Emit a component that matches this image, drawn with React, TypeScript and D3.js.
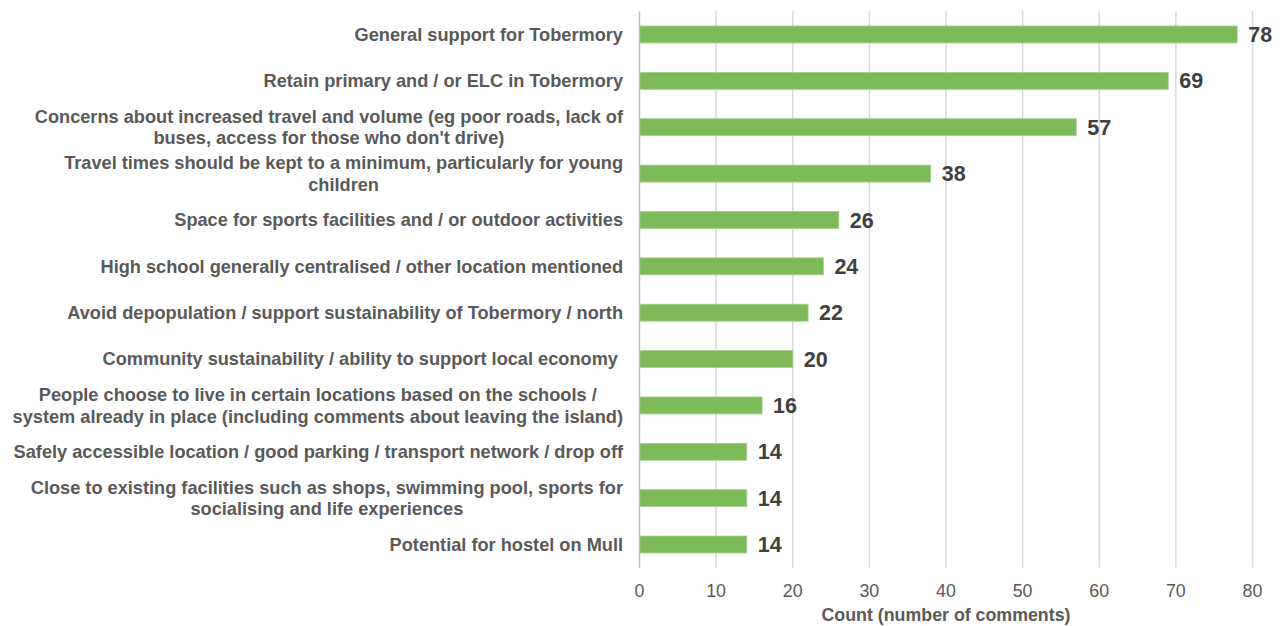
import React, { useEffect, useRef } from "react";
import * as d3 from "d3";

const categories: string[] = [
  "General support for Tobermory",
  "Retain primary and / or ELC in Tobermory",
  "Concerns about increased travel and volume (eg poor roads, lack of\nbuses, access for those who don't drive)",
  "Travel times should be kept to a minimum, particularly for young\nchildren",
  "Space for sports facilities and / or outdoor activities",
  "High school generally centralised / other location mentioned",
  "Avoid depopulation / support sustainability of Tobermory / north",
  "Community sustainability / ability to support local economy ",
  "People choose to live in certain locations based on the schools /\nsystem already in place (including comments about leaving the island)",
  "Safely accessible location / good parking / transport network / drop off",
  "Close to existing facilities such as shops, swimming pool, sports for\nsocialising and life experiences",
  "Potential for hostel on Mull",
];
const counts: number[] = [78, 69, 57, 38, 26, 24, 22, 20, 16, 14, 14, 14];
const xTicks: number[] = [0, 10, 20, 30, 40, 50, 60, 70, 80];
const xTitle = "Count (number of comments)";

const W = 1285;
const H = 626;
const M = { left: 639.5, right: 1252.5, top: 11.3, bottom: 567.7 };
const FONT = "'Liberation Sans', Arial, Helvetica, sans-serif";

export default function App() {
  const ref = useRef<SVGSVGElement | null>(null);

  useEffect(() => {
    const svg = d3.select(ref.current);
    svg.selectAll("*").remove();

    const x = d3.scaleLinear().domain([0, 80]).range([M.left, M.right]);
    const y = d3
      .scaleBand<number>()
      .domain(d3.range(categories.length))
      .range([M.top, M.bottom])
      .paddingInner(0.635)
      .paddingOuter(0.3175);

    // gridlines
    svg
      .append("g")
      .selectAll("line")
      .data(xTicks.filter((t) => t !== 0))
      .join("line")
      .attr("x1", (d) => x(d))
      .attr("x2", (d) => x(d))
      .attr("y1", M.top)
      .attr("y2", M.bottom)
      .attr("stroke", "#d9d9d9")
      .attr("stroke-width", 1.5);

    // bars
    svg
      .append("g")
      .selectAll("rect")
      .data(counts)
      .join("rect")
      .attr("x", x(0))
      .attr("y", (_, i) => y(i)!)
      .attr("width", (d) => x(d) - x(0))
      .attr("height", y.bandwidth())
      .attr("fill", "#7dba59")
      .attr("stroke", "#a3cf86")
      .attr("stroke-width", 0.8);

    // zero axis line
    svg
      .append("line")
      .attr("x1", x(0))
      .attr("x2", x(0))
      .attr("y1", M.top)
      .attr("y2", M.bottom)
      .attr("stroke", "#bfbfbf")
      .attr("stroke-width", 1.5);

    // value labels
    svg
      .append("g")
      .selectAll("text")
      .data(counts)
      .join("text")
      .attr("x", (d) => x(d) + 11)
      .attr("y", (_, i) => y(i)! + y.bandwidth() / 2 + 7.6)
      .attr("font-family", FONT)
      .attr("font-weight", "bold")
      .attr("font-size", 21.5)
      .attr("fill", "#404040")
      .text((d) => String(d));

    // category labels (wrapped lines centred within a right-aligned block)
    const labelRight = 623;
    const lineH = 21.5;
    const catG = svg.append("g");
    categories.forEach((c, i) => {
      const lines = c.split("\n");
      const cy = y(i)! + y.bandwidth() / 2;
      const texts = lines.map((ln, k) =>
        catG
          .append("text")
          .attr("text-anchor", "end")
          .attr("x", labelRight)
          .attr("y", cy + 6.4 + (k - (lines.length - 1) / 2) * lineH)
          .attr("font-family", FONT)
          .attr("font-weight", "bold")
          .attr("font-size", 18.2)
          .attr("fill", "#595959")
          .style("white-space", "pre")
          .text(ln)
      );
      if (texts.length > 1) {
        const widths = texts.map((t) => (t.node() as SVGTextElement).getComputedTextLength());
        const maxW = Math.max(...widths);
        texts.forEach((t, k) => t.attr("x", labelRight - (maxW - widths[k]) / 2));
      }
    });

    // tick labels
    svg
      .append("g")
      .selectAll("text")
      .data(xTicks)
      .join("text")
      .attr("x", (d) => x(d))
      .attr("y", 597)
      .attr("text-anchor", "middle")
      .attr("font-family", FONT)
      .attr("font-size", 17.8)
      .attr("fill", "#595959")
      .text((d) => String(d));

    // axis title
    svg
      .append("text")
      .attr("x", (M.left + M.right) / 2)
      .attr("y", 621)
      .attr("text-anchor", "middle")
      .attr("font-family", FONT)
      .attr("font-weight", "bold")
      .attr("font-size", 17.8)
      .attr("fill", "#595959")
      .text(xTitle);
  }, []);

  return (
    <svg
      ref={ref}
      width={W}
      height={H}
      style={{ position: "absolute", left: 0, top: 0, background: "#ffffff" }}
    />
  );
}
